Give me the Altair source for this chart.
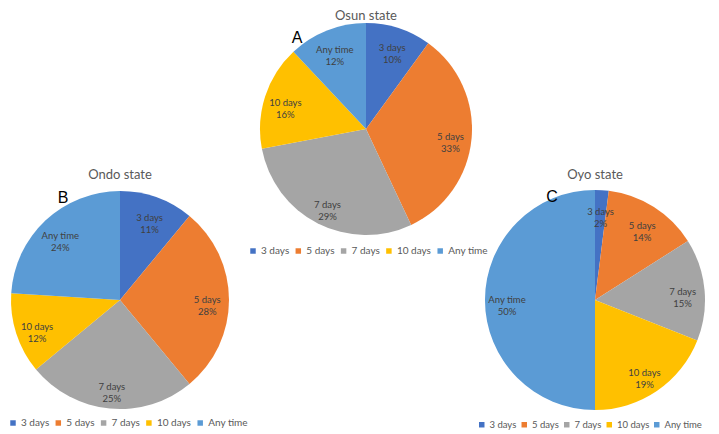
import altair as alt
import pandas as pd

categories = ["3 days", "5 days", "7 days", "10 days", "Any time"]
osun_pct = [10, 33, 29, 16, 12]
ondo_pct = [11, 28, 25, 12, 24]
oyo_pct = [2, 14, 15, 19, 50]
state_titles = ["Osun state", "Ondo state", "Oyo state"]
panel_letters = ["A", "B", "C"]
palette = ["#4472C4", "#ED7D31", "#A5A5A5", "#FFC000", "#5B9BD5"]

W, H = 703, 426
FONT = "Lato"


def pie(values, title, letter, cx, cy, r, title_y, letter_xy, legend_xy, leg_font=10, leg_pad=3.3):
    df = pd.DataFrame({
        "category": categories,
        "pct": values,
        "order": list(range(len(categories))),
        "label": [f"{c}\n{v}%" for c, v in zip(categories, values)],
    })
    base = alt.Chart(df).encode(
        theta=alt.Theta("pct:Q", stack=True),
        order=alt.Order("order:Q"),
        x=alt.value(cx),
        y=alt.value(cy),
    )
    arcs = base.mark_arc(outerRadius=r).encode(
        color=alt.Color(
            "category:N",
            sort=categories,
            scale=alt.Scale(domain=categories, range=palette),
            legend=alt.Legend(
                title=None,
                orient="none",
                legendX=legend_xy[0],
                legendY=legend_xy[1],
                direction="horizontal",
                gridAlign="none",
                symbolType="square",
                symbolSize=30,
                symbolStrokeWidth=0,
                labelFont=FONT,
                labelFontSize=leg_font,
                labelColor="#595959",
                labelOffset=3,
                columnPadding=leg_pad,
                padding=0,
            ),
        )
    )
    labels = base.mark_text(
        radius=0.8 * r, lineBreak="\n", fontSize=9.5, font=FONT,
        color="#404040", lineHeight=12,
    ).encode(text="label:N", detail="category:N")
    ttl = alt.Chart(pd.DataFrame({"t": [title]})).mark_text(
        font=FONT, fontSize=13, color="#595959"
    ).encode(text="t:N", x=alt.value(cx), y=alt.value(title_y))
    let = alt.Chart(pd.DataFrame({"t": [letter]})).mark_text(
        font="Liberation Sans", fontSize=16, color="#000000"
    ).encode(text="t:N", x=alt.value(letter_xy[0]), y=alt.value(letter_xy[1]))
    return alt.layer(arcs, labels, ttl, let)


osun = pie(osun_pct, state_titles[0], panel_letters[0], 358, 121, 106, 8, (289, 30), (240, 238))
ondo = pie(ondo_pct, state_titles[1], panel_letters[1], 112, 292, 109, 167, (55, 190), (0, 410))
oyo = pie(oyo_pct, state_titles[2], panel_letters[2], 587, 292, 110, 167, (544, 189), (469, 412),
          leg_font=9.5, leg_pad=2.5)

chart = alt.layer(osun, ondo, oyo).resolve_scale(
    color="independent", theta="independent"
).properties(width=W, height=H, padding=0, autosize="none").configure_view(stroke=None)

chart.save("out.html", embed_options={"renderer": "svg", "actions": False})
